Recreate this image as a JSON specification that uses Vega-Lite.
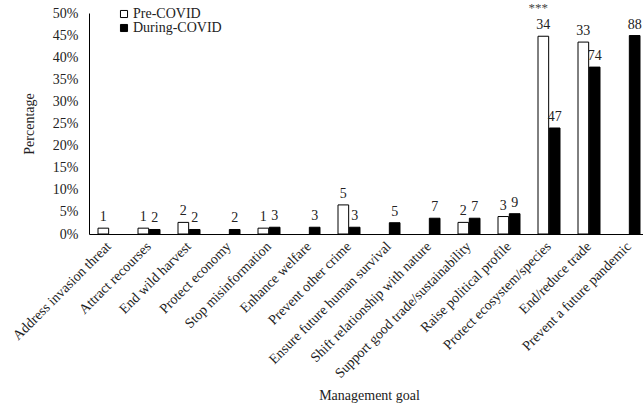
{
  "$schema": "https://vega.github.io/schema/vega-lite/v6.json",
  "autosize": {"type": "none"},
  "padding": {"left": 89, "top": 13, "right": 0, "bottom": 173},
  "width": 560,
  "height": 221,
  "background": "white",
  "data": {
    "values": [
      {"goal": "Address invasion threat", "period": "Pre-COVID", "pct": 0.0132, "n": 1},
      {"goal": "Attract recourses", "period": "Pre-COVID", "pct": 0.0132, "n": 1},
      {"goal": "Attract recourses", "period": "During-COVID", "pct": 0.0102, "n": 2},
      {"goal": "End wild harvest", "period": "Pre-COVID", "pct": 0.0263, "n": 2},
      {"goal": "End wild harvest", "period": "During-COVID", "pct": 0.0102, "n": 2},
      {"goal": "Protect economy", "period": "During-COVID", "pct": 0.0102, "n": 2},
      {"goal": "Stop misinformation", "period": "Pre-COVID", "pct": 0.0132, "n": 1},
      {"goal": "Stop misinformation", "period": "During-COVID", "pct": 0.0153, "n": 3},
      {"goal": "Enhance welfare", "period": "During-COVID", "pct": 0.0153, "n": 3},
      {"goal": "Prevent other crime", "period": "Pre-COVID", "pct": 0.0658, "n": 5},
      {"goal": "Prevent other crime", "period": "During-COVID", "pct": 0.0153, "n": 3},
      {"goal": "Ensure future human survival", "period": "During-COVID", "pct": 0.0255, "n": 5},
      {"goal": "Shift relationship with nature", "period": "During-COVID", "pct": 0.0357, "n": 7},
      {"goal": "Support good trade/sustainability", "period": "Pre-COVID", "pct": 0.0263, "n": 2},
      {"goal": "Support good trade/sustainability", "period": "During-COVID", "pct": 0.0357, "n": 7},
      {"goal": "Raise political profile", "period": "Pre-COVID", "pct": 0.0395, "n": 3},
      {"goal": "Raise political profile", "period": "During-COVID", "pct": 0.0459, "n": 9},
      {"goal": "Protect ecosystem/species", "period": "Pre-COVID", "pct": 0.4474, "n": 34, "sig": "***"},
      {"goal": "Protect ecosystem/species", "period": "During-COVID", "pct": 0.2398, "n": 47},
      {"goal": "End/reduce trade", "period": "Pre-COVID", "pct": 0.4342, "n": 33},
      {"goal": "End/reduce trade", "period": "During-COVID", "pct": 0.3776, "n": 74},
      {"goal": "Prevent a future pandemic", "period": "During-COVID", "pct": 0.449, "n": 88}
    ]
  },
  "encoding": {
    "x": {
      "field": "goal",
      "type": "nominal",
      "sort": ["Address invasion threat", "Attract recourses", "End wild harvest", "Protect economy", "Stop misinformation", "Enhance welfare", "Prevent other crime", "Ensure future human survival", "Shift relationship with nature", "Support good trade/sustainability", "Raise political profile", "Protect ecosystem/species", "End/reduce trade", "Prevent a future pandemic"],
      "scale": {"paddingInner": 0.45, "paddingOuter": 0.225},
      "axis": {
        "title": "Management goal",
        "labelAngle": -45,
        "labelAlign": "right",
        "labelBaseline": "middle",
        "ticks": false,
        "labelPadding": 10,
        "titlePadding": 8,
        "labelLimit": 300
      }
    },
    "xOffset": {
      "field": "period",
      "type": "nominal",
      "scale": {"domain": ["Pre-COVID", "During-COVID"], "paddingInner": 0.06}
    },
    "y": {
      "field": "pct",
      "type": "quantitative",
      "scale": {"domain": [0, 0.5], "nice": false},
      "axis": {
        "title": "Percentage",
        "values": [0, 0.05, 0.1, 0.15, 0.2, 0.25, 0.3, 0.35, 0.4, 0.45, 0.5],
        "format": ".0%",
        "grid": false,
        "ticks": false,
        "labelPadding": 11,
        "titlePadding": 16
      }
    }
  },
  "layer": [
    {
      "mark": {"type": "bar", "stroke": "black", "strokeWidth": 1},
      "encoding": {
        "fill": {
          "field": "period",
          "type": "nominal",
          "scale": {"domain": ["Pre-COVID", "During-COVID"], "range": ["white", "black"]},
          "legend": {
            "title": null,
            "orient": "none",
            "legendX": 28,
            "legendY": -6,
            "symbolType": "square",
            "symbolSize": 50,
            "symbolStrokeColor": "black",
            "symbolStrokeWidth": 1,
            "labelFontSize": 14,
            "labelOffset": 2,
            "rowPadding": 0,
            "padding": 0
          }
        }
      }
    },
    {
      "mark": {"type": "text", "baseline": "bottom", "dy": -4, "font": "Liberation Serif", "fontSize": 14, "color": "#222"},
      "encoding": {"text": {"field": "n", "type": "quantitative"}}
    },
    {
      "transform": [{"filter": "datum.sig"}],
      "mark": {"type": "text", "baseline": "bottom", "dy": -21, "dx": -5, "font": "Liberation Serif", "fontSize": 13, "color": "#444"},
      "encoding": {"text": {"field": "sig", "type": "nominal"}}
    }
  ],
  "config": {
    "view": {"stroke": null},
    "font": "Liberation Serif",
    "axis": {
      "labelFont": "Liberation Serif",
      "titleFont": "Liberation Serif",
      "labelFontSize": 14,
      "titleFontSize": 14,
      "titleFontWeight": "normal",
      "labelColor": "#222",
      "titleColor": "#222",
      "domainColor": "black",
      "domainWidth": 1
    },
    "legend": {"labelFont": "Liberation Serif", "labelColor": "#222"}
  }
}
